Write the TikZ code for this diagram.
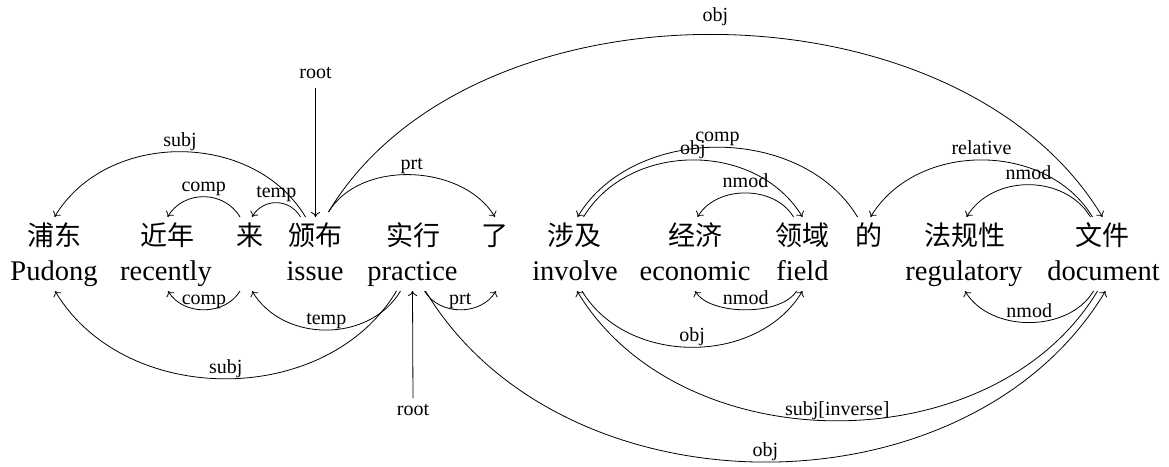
\documentclass[tikz,border=0pt]{standalone}
\usepackage{fontspec}
\setmainfont{Liberation Serif}
\newfontfamily\cjk{Noto Sans CJK SC}
\usetikzlibrary{arrows.meta,calc}
\begin{document}
\begin{tikzpicture}[x=1pt,y=-1pt,
  zh/.style={font=\cjk\fontsize{27}{30}\selectfont, anchor=base, inner sep=0pt},
  en/.style={font=\fontsize{28.5}{32}\selectfont, anchor=base, inner sep=0pt},
  deparc/.style={line width=0.8pt, -{To[length=5pt,width=9pt]}},
  lab/.style={font=\fontsize{20}{22}\selectfont, inner sep=1pt, text height=13pt, text depth=4pt}]
\useasboundingbox (0,0) rectangle (1169,466);
\coordinate (top) at (0,217);
\coordinate (bot) at (0,291);
% Chinese row
\node[zh] (zh1) at (54.5,245) {浦东};
\node[zh] (zh2) at (167.5,245) {近年};
\node[zh] (zh3) at (250,245) {来};
\node[zh] (zh4) at (315.5,245) {颁布};
\node[zh] (zh5) at (413,245) {实行};
\node[zh] (zh6) at (495,245) {了};
\node[zh] (zh7) at (574.5,245) {涉及};
\node[zh] (zh8) at (695.5,245) {经济};
\node[zh] (zh9) at (802.5,245) {领域};
\node[zh] (zh10) at (868.5,245) {的};
\node[zh] (zh11) at (964.5,245) {法规性};
\node[zh] (zh12) at (1102.5,245) {文件};
% English row
\node[en] (en1) at (54,280) {Pudong};
\node[en] (en2) at (166,280) {recently};
\node[en] (en4) at (315,280) {issue};
\node[en] (en5) at (412.5,280) {practice};
\node[en] (en7) at (575,280) {involve};
\node[en] (en8) at (695,280) {economic};
\node[en] (en9) at (802.5,280) {field};
\node[en] (en11) at (964,280) {regulatory};
\node[en] (en12) at (1103.5,280) {document};
% top arcs
\draw[deparc] ($(zh4|-top)+(-10,0)$) .. controls +(-52,-87) and +(52,-87) .. (zh1|-top) node[lab,midway,above] (lt1) {subj};
\draw[deparc] ($(zh3|-top)+(-10,0)$) .. controls +(-16,-27) and +(16,-27) .. (zh2|-top) node[lab,midway,above] (lt2) {comp};
\draw[deparc] ($(zh4|-top)+(-15,0)$) .. controls +(-11,-19) and +(11,-19) .. ($(zh3|-top)+(2,0)$) node[lab,midway,above] (lt3) {temp};
\node[lab] (rt1) at (315.5,74) {root};
\draw[deparc, shorten <=4pt] (rt1.south) -- (zh4|-top);
\draw[deparc] ($(zh4|-top)+(13,-5)$) .. controls +(144,-240) and +(-144,-240) .. (zh12|-top) node[lab,midway,above=8pt] (lt5) {obj};
\draw[deparc] ($(zh4|-top)+(13,-5)$) .. controls +(32,-53) and +(-32,-53) .. (zh6|-top) node[lab,midway,above] (lt6) {prt};
\draw[deparc] ($(zh10|-top)+(-11,0)$) .. controls +(-56,-93) and +(56,-93) .. ($(zh7|-top)+(3,0)$) node[lab,midway,above] (lt7) {comp};
\draw[deparc] ($(zh7|-top)+(9,0)$) .. controls +(46,-76) and +(-46,-76) .. (zh9|-top) node[lab,midway,above] (lt8) {obj};
\draw[deparc] ($(zh9|-top)+(-9,0)$) .. controls +(-19,-32) and +(19,-32) .. ($(zh8|-top)+(2,0)$) node[lab,midway,above] (lt9) {nmod};
\draw[deparc] ($(zh12|-top)+(-10,0)$) .. controls +(-46,-76) and +(46,-76) .. ($(zh10|-top)+(2,0)$) node[lab,midway,above] (lt10) {relative};
\draw[deparc] ($(zh12|-top)+(-12,0)$) .. controls +(-26,-43) and +(26,-43) .. ($(zh11|-top)+(2,0)$) node[lab,midway,above] (lt11) {nmod};
% bottom arcs
\draw[deparc] ($(zh3|-bot)+(-10,0)$) .. controls +(-15,25) and +(15,25) .. ($(en2|-bot)+(2,0)$) node[lab,midway,above] (lb1) {comp};
\draw[deparc] ($(en5|-bot)+(-12,0)$) .. controls +(-31,52) and +(31,52) .. ($(zh3|-bot)+(2,0)$) node[lab,midway,above] (lb2) {temp};
\draw[deparc] ($(en5|-bot)+(-16,0)$) .. controls +(-70,117) and +(70,117) .. ($(en1|-bot)+(1,0)$) node[lab,midway,above] (lb3) {subj};
\node[lab] (rt2) at (413,411) {root};
\draw[deparc, shorten <=3pt] (rt2.north) -- (en5|-bot);
\draw[deparc] ($(en5|-bot)+(12,0)$) .. controls +(15,25) and +(-15,25) .. ($(zh6|-bot)+(1,0)$) node[lab,midway,above] (lb5) {prt};
\draw[deparc] ($(en5|-bot)+(13,0)$) .. controls +(137,228) and +(-137,228) .. ($(en12|-bot)+(2,0)$) node[lab,midway,above] (lb6) {obj};
\draw[deparc] ($(en12|-bot)+(-6,0)$) .. controls +(-104,173) and +(104,173) .. ($(en7|-bot)+(2,0)$) node[lab,midway,above] (lb7) {subj[inverse]};
\draw[deparc] ($(en7|-bot)+(7,0)$) .. controls +(45,75) and +(-45,75) .. (en9|-bot) node[lab,midway,above] (lb8) {obj};
\draw[deparc] ($(en9|-bot)+(-6,0)$) .. controls +(-15,25) and +(15,25) .. (en8|-bot) node[lab,midway,above] (lb9) {nmod};
\draw[deparc] ($(en12|-bot)+(-10,0)$) .. controls +(-25,42) and +(25,42) .. ($(en11|-bot)+(1,0)$) node[lab,midway,above] (lb10) {nmod};
\end{tikzpicture}
\end{document}
